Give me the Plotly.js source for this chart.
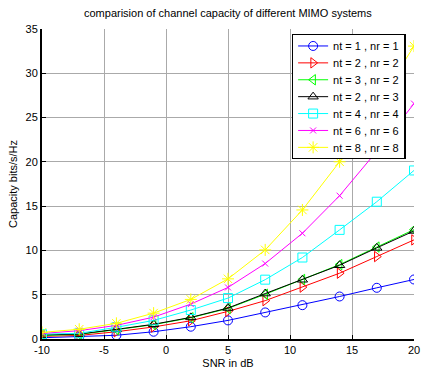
<!DOCTYPE html>
<html>
<head>
<meta charset="utf-8">
<script src="https://cdn.plot.ly/plotly-3.0.1.min.js"></script>
<style>html,body{margin:0;padding:0;background:#fff;}#chart{width:422px;height:371px;}</style>
</head>
<body>
<div id="chart"></div>
<script>
const snr = [-10, -7, -4, -1, 2, 5, 8, 11, 14, 17, 20];
const names = ["nt = 1 , nr = 1", "nt = 2 , nr = 2", "nt = 3 , nr = 2", "nt = 2 , nr = 3", "nt = 4 , nr = 4", "nt = 6 , nr = 6", "nt = 8 , nr = 8"];
const cap11 = [0.14, 0.24, 0.42, 0.82, 1.39, 2.10, 3.00, 3.82, 4.80, 5.78, 6.72];
const cap22 = [0.30, 0.40, 0.82, 1.36, 2.06, 3.12, 4.33, 5.86, 7.43, 9.31, 11.19];
const cap32 = [0.40, 0.52, 1.05, 1.62, 2.40, 3.45, 5.05, 6.72, 8.40, 10.38, 12.35];
const cap23 = [0.45, 0.56, 1.09, 1.66, 2.44, 3.50, 5.13, 6.69, 8.33, 10.29, 12.20];
const cap44 = [0.55, 0.64, 1.32, 2.10, 3.27, 4.62, 6.70, 9.20, 12.32, 15.50, 19.03];
const cap66 = [0.62, 0.94, 1.54, 2.47, 3.94, 5.82, 8.52, 11.94, 16.18, 21.20, 26.58];
const cap88 = [0.75, 1.10, 1.77, 2.92, 4.47, 6.79, 10.06, 14.57, 20.01, 26.40, 33.07];
const xTicks = [-10, -5, 0, 5, 10, 15, 20];
const yTicks = [0, 5, 10, 15, 20, 25, 30, 35];

const series = [cap11, cap22, cap32, cap23, cap44, cap66, cap88];
const colors = ["#0000ff", "#ff0000", "#00ff00", "#000000", "#00ffff", "#ff00ff", "#ffff00"];
const symbols = ["circle-open", "triangle-right-open", "triangle-left-open", "triangle-up-open", "square-open", "x-thin-open", "asterisk-open"];
const sizes = [9, 9, 9, 9, 9, 6, 10];

const traces = series.map((ys, i) => ({
  x: snr, y: ys, name: names[i], type: "scatter", mode: "lines+markers",
  line: {color: colors[i], width: 1},
  marker: {symbol: symbols[i], size: sizes[i], color: colors[i], line: {color: colors[i], width: 1}}
}));

const font = {family: "Liberation Sans, Arial, sans-serif", size: 11, color: "#000"};
const layout = {
  width: 422, height: 371,
  margin: {l: 42, r: 8, t: 29, b: 32},
  paper_bgcolor: "#fff", plot_bgcolor: "#fff",
  font: font,
  showlegend: true,
  title: {text: "comparision of channel capacity of different MIMO systems", font: {family: font.family, size: 11, color: "#000"}, x: 0.54, xanchor: "center", y: 0.965, yanchor: "middle"},
  xaxis: {range: [-10, 20], tickvals: xTicks, ticktext: xTicks.map(String), ticks: "inside", ticklen: 4, tickcolor: "#000",
    showline: true, linecolor: "#000", linewidth: 2, showgrid: true, gridcolor: "#aaaaaa", gridwidth: 1, zeroline: false,
    title: {text: "SNR in dB", font: font, standoff: 4}, tickfont: font},
  yaxis: {range: [0, 35], tickvals: yTicks, ticktext: yTicks.map(String), ticks: "inside", ticklen: 4, tickcolor: "#000",
    showline: true, linecolor: "#000", linewidth: 2, showgrid: true, gridcolor: "#aaaaaa", gridwidth: 1, zeroline: false,
    title: {text: "Capacity bits/s/Hz", font: font, standoff: 6}, tickfont: font},
  xaxis2: {overlaying: "x", side: "top", anchor: "y", range: [-10, 20], tickvals: xTicks, showticklabels: false, ticks: "inside", ticklen: 4,
    tickcolor: "#555", showline: true, linecolor: "#888", linewidth: 1, showgrid: false, zeroline: false},
  yaxis2: {overlaying: "y", side: "right", anchor: "x", range: [0, 35], tickvals: yTicks, showticklabels: false, ticks: "inside", ticklen: 4,
    tickcolor: "#555", showline: true, linecolor: "#888", linewidth: 1, showgrid: false, zeroline: false},
  legend: {x: 0.671, y: 0.984, xanchor: "left", yanchor: "top", bgcolor: "#fff", bordercolor: "#000", borderwidth: 1.5,
    font: {family: font.family, size: 11, color: "#000"}, tracegroupgap: 0, itemwidth: 30}
};

Plotly.newPlot("chart", traces, layout, {displayModeBar: false, staticPlot: true}).then(gd => {
  // tighten legend row spacing to match the reference (~17px per entry)
  const k = 16.9 / 19;
  const lift = 4;
  const items = gd.querySelectorAll(".legend .traces");
  const parse = el => {
    const m = /translate\(\s*([-\d.]+)[ ,]+([-\d.]+)\s*\)/.exec(el.getAttribute("transform") || "");
    return m ? [parseFloat(m[1]), parseFloat(m[2])] : [0, 0];
  };
  if (!items.length) return;
  const y0 = parse(items[0])[1];
  let lastOld = y0, lastNew = y0;
  items.forEach(el => {
    const [x, y] = parse(el);
    const ny = y0 + (y - y0) * k - lift;
    el.setAttribute("transform", "translate(" + x + "," + ny + ")");
    lastOld = y; lastNew = ny;
  });
  const shrink = lastOld - lastNew + lift;
  const bg = gd.querySelector(".legend rect.bg");
  if (bg) bg.setAttribute("height", parseFloat(bg.getAttribute("height")) - shrink);
});
</script>
</body>
</html>
